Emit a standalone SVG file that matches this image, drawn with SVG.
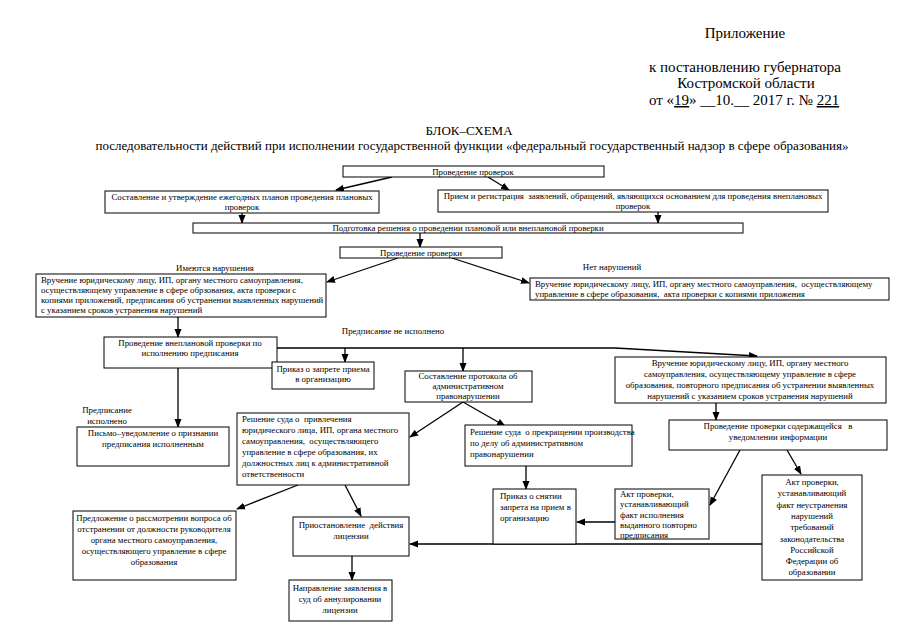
<svg xmlns="http://www.w3.org/2000/svg" width="905" height="640" viewBox="0 0 905 640" font-family="'Liberation Serif','Times New Roman',serif">
<defs>
<marker id="ah" markerWidth="9" markerHeight="8" refX="8" refY="4" orient="auto" markerUnits="userSpaceOnUse"><path d="M0,0.5 L9,4 L0,7.5 z" fill="#000"/></marker>
<style>
.box{fill:#fff;stroke:#000;stroke-width:1}
.t{font-family:"Liberation Serif","Times New Roman",serif;font-size:8.8px;fill:#000}
.c{text-anchor:middle}
.h{font-family:"Liberation Serif","Times New Roman",serif;font-size:15px;fill:#000}
.ti{font-family:"Liberation Serif","Times New Roman",serif;font-size:13px;fill:#000;text-anchor:middle}
.ln{stroke:#000;stroke-width:1.3;fill:none}
.a{marker-end:url(#ah)}
</style>
</defs>
<rect width="905" height="640" fill="#fff"/>
<g id="header">
<text x="745" y="38" class="h c">Приложение</text>
<text x="745" y="72" class="h c">к постановлению губернатора</text>
<text x="746" y="88" class="h c">Костромской области</text>
<text x="649" y="105" class="h" xml:space="preserve">от «<tspan text-decoration="underline">19</tspan>» __10.__ 2017 г. № <tspan text-decoration="underline">221</tspan></text>
<text x="469" y="135" class="ti">БЛОК–СХЕМА</text>
<text x="472" y="150" class="ti">последовательности действий при исполнении государственной функции «федеральный государственный надзор в сфере образования»</text>
</g>
<g id="connectors">
<line class="ln a" x1="392" y1="177" x2="336" y2="190"/>
<line class="ln a" x1="488" y1="177" x2="509" y2="190"/>
<line class="ln a" x1="242" y1="213" x2="242" y2="223"/>
<line class="ln a" x1="658" y1="212" x2="658" y2="223"/>
<line class="ln a" x1="420" y1="233" x2="420" y2="247"/>
<line class="ln a" x1="398" y1="258" x2="327" y2="282"/>
<line class="ln a" x1="452" y1="258" x2="529" y2="283"/>
<line class="ln a" x1="178" y1="317" x2="178" y2="337"/>
<polyline class="ln a" points="277,348 615,348 757,356"/>
<line class="ln a" x1="345" y1="348" x2="345" y2="362"/>
<line class="ln a" x1="463" y1="348" x2="463" y2="371"/>
<line class="ln a" x1="178" y1="368" x2="178" y2="427"/>
<line class="ln a" x1="716" y1="403" x2="716" y2="420"/>
<line class="ln a" x1="463" y1="402" x2="410" y2="437"/>
<line class="ln a" x1="463" y1="402" x2="505" y2="426"/>
<line class="ln a" x1="298" y1="485" x2="237" y2="509"/>
<line class="ln a" x1="345" y1="485" x2="361" y2="516"/>
<line class="ln a" x1="352" y1="556" x2="352" y2="580"/>
<line class="ln a" x1="526" y1="466" x2="526" y2="489"/>
<line class="ln a" x1="740" y1="450" x2="710" y2="505"/>
<line class="ln a" x1="787" y1="450" x2="801" y2="474"/>
<line class="ln a" x1="615" y1="522" x2="577" y2="522"/>
<line class="ln a" x1="762" y1="544" x2="410" y2="544"/>
</g>
<g id="labels">
<text x="215" y="271" class="t c">Имеются нарушения</text>
<text x="612" y="270" class="t c">Нет нарушений</text>
<text x="393" y="334" class="t c">Предписание не исполнено</text>
<text x="107" y="413" class="t c">Предписание</text>
<text x="107" y="424" class="t c">исполнено</text>
</g>
<g id="n-checks">
<rect class="box" x="343" y="166" width="261" height="11"/>
<text x="473" y="175" class="t c">Проведение проверок</text>
</g>
<g id="n-plans">
<rect class="box" x="105" y="191" width="274" height="22"/>
<text x="242" y="200" class="t c">Составление и утверждение ежегодных планов проведения плановых</text>
<text x="242" y="210" class="t c">проверок</text>
</g>
<g id="n-reception">
<rect class="box" x="438" y="190" width="390" height="22"/>
<text x="633" y="199" class="t c" xml:space="preserve">Прием и регистрация  заявлений, обращений, являющихся основанием для проведения внеплановых</text>
<text x="633" y="209" class="t c">проверок</text>
</g>
<g id="n-prepare">
<rect class="box" x="193" y="223" width="550" height="10"/>
<text x="468" y="231" class="t c">Подготовка решения о проведении плановой или внеплановой проверки</text>
</g>
<g id="n-check">
<rect class="box" x="340" y="247" width="162" height="11"/>
<text x="421" y="256" class="t c">Проведение проверки</text>
</g>
<g id="n-violations">
<rect class="box" x="36" y="274" width="290" height="43"/>
<text x="41" y="283" class="t">Вручение юридическому лицу, ИП, органу местного самоуправления,</text>
<text x="41" y="293" class="t">осуществляющему управление в сфере обрзования, акта проверки с</text>
<text x="41" y="303" class="t">копиями приложений, предписания об устранении выявленных нарушений</text>
<text x="41" y="313" class="t">с указанием сроков устранения нарушений</text>
</g>
<g id="n-noviolations">
<rect class="box" x="530" y="278" width="359" height="22"/>
<text x="535" y="287" class="t" xml:space="preserve">Вручение юридическому лицу, ИП, органу местного самоуправления,  осуществляющему</text>
<text x="535" y="297" class="t" xml:space="preserve">управление в сфере образования,  акта проверки с копиями приложения</text>
</g>
<g id="n-unscheduled">
<rect class="box" x="104" y="337" width="173" height="31"/>
<text x="190" y="346" class="t c">Проведение внеплановой проверки по</text>
<text x="190" y="356" class="t c">исполнению предписания</text>
</g>
<g id="n-ban">
<rect class="box" x="272" y="362" width="102" height="27"/>
<text x="323" y="372" class="t c">Приказ о запрете приема</text>
<text x="323" y="382" class="t c">в организацию</text>
</g>
<g id="n-protocol">
<rect class="box" x="405" y="371" width="127" height="31"/>
<text x="468" y="379" class="t c">Составление протокола об</text>
<text x="468" y="389" class="t c">административном</text>
<text x="468" y="399" class="t c">правонарушении</text>
</g>
<g id="n-repeat">
<rect class="box" x="615" y="357" width="271" height="46"/>
<text x="750" y="366" class="t c">Вручение юридическому лицу, ИП, органу местного</text>
<text x="750" y="377" class="t c">самоуправления, осуществляющему управление в сфере</text>
<text x="750" y="388" class="t c">образования, повторного предписания об устранении выявленных</text>
<text x="750" y="399" class="t c">нарушений с указанием сроков устранения нарушений</text>
</g>
<g id="n-info">
<rect class="box" x="669" y="420" width="218" height="30"/>
<text x="778" y="429" class="t c" xml:space="preserve">Проведение проверки содержащейся   в</text>
<text x="778" y="440" class="t c">уведомлении информации</text>
</g>
<g id="n-court">
<rect class="box" x="237" y="413" width="172" height="72"/>
<text x="242" y="422" class="t" xml:space="preserve">Решение суда о  привлечения</text>
<text x="242" y="433" class="t">юридического лица, ИП, органа местного</text>
<text x="242" y="444" class="t" xml:space="preserve">самоуправления,  осуществляющего</text>
<text x="242" y="455" class="t">управление в сфере образования, их</text>
<text x="242" y="466" class="t">должностных лиц к административной</text>
<text x="242" y="477" class="t">ответственности</text>
</g>
<g id="n-termination">
<rect class="box" x="465" y="425" width="167" height="41"/>
<text x="470" y="435" class="t" xml:space="preserve">Решение суда  о прекращении производства</text>
<text x="470" y="446" class="t">по делу об административном</text>
<text x="470" y="457" class="t">правонарушении</text>
</g>
<g id="n-letter">
<rect class="box" x="77" y="427" width="152" height="39"/>
<text x="153" y="436" class="t c">Письмо–уведомление о признании</text>
<text x="153" y="447" class="t c">предписания исполненным</text>
</g>
<g id="n-removal">
<rect class="box" x="73" y="511" width="163" height="69"/>
<text x="154" y="521" class="t c">Предложение о рассмотрении вопроса об</text>
<text x="154" y="532" class="t c">отстранении от должности руководителя</text>
<text x="154" y="543" class="t c">органа местного самоуправления,</text>
<text x="154" y="554" class="t c">осуществляющего управление в сфере</text>
<text x="154" y="565" class="t c">образования</text>
</g>
<g id="n-suspend">
<rect class="box" x="293" y="517" width="116" height="39"/>
<text x="351" y="528" class="t c" xml:space="preserve">Приостановление  действия</text>
<text x="351" y="539" class="t c">лицензии</text>
</g>
<g id="n-annul">
<rect class="box" x="289" y="580" width="103" height="41"/>
<text x="340" y="591" class="t c">Направление заявления в</text>
<text x="340" y="602" class="t c">суд об аннулировании</text>
<text x="340" y="613" class="t c">лицензии</text>
</g>
<g id="n-lift">
<rect class="box" x="493" y="489" width="83" height="55"/>
<text x="500" y="499" class="t">Приказ о снятии</text>
<text x="500" y="510" class="t">запрета на прием в</text>
<text x="500" y="521" class="t">организацию</text>
</g>
<g id="n-act-ok">
<rect class="box" x="615" y="489" width="94" height="50"/>
<text x="620" y="497" class="t">Акт проверки,</text>
<text x="620" y="507" class="t">устанавливающий</text>
<text x="620" y="518" class="t">факт исполнения</text>
<text x="620" y="528" class="t">выданного повторно</text>
<text x="620" y="538" class="t">предписания</text>
</g>
<g id="n-act-fail">
<rect class="box" x="762" y="475" width="100" height="105"/>
<text x="812" y="485" class="t c">Акт проверки,</text>
<text x="812" y="496" class="t c">устанавливающий</text>
<text x="812" y="508" class="t c">факт неустранения</text>
<text x="812" y="519" class="t c">нарушений</text>
<text x="812" y="530" class="t c">требований</text>
<text x="812" y="542" class="t c">законодательства</text>
<text x="812" y="553" class="t c">Российской</text>
<text x="812" y="564" class="t c">Федерации об</text>
<text x="812" y="575" class="t c">образовании</text>
</g>
</svg>
